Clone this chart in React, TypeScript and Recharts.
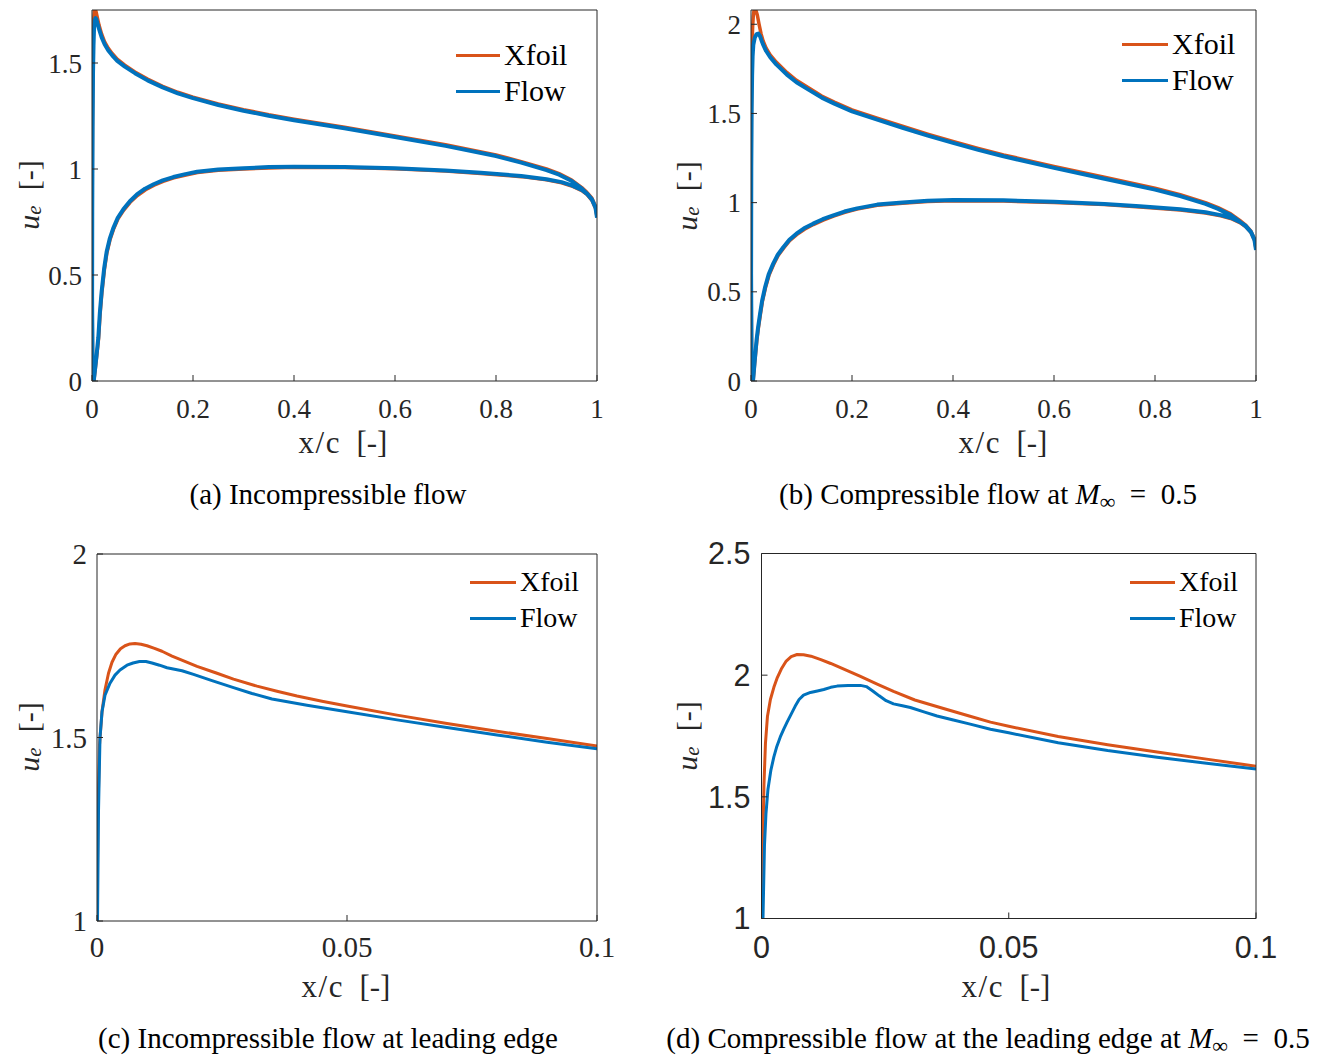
import React from 'react';
import { LineChart, Line, XAxis, YAxis, Legend } from 'recharts';

type Pt = [number, number];

const XFOIL_COLOR = '#D95319';
const FLOW_COLOR = '#0072BD';
const AXIS_COLOR = '#262626';
const SERIF = '"Liberation Serif", "Times New Roman", serif';
const SANS = '"Liberation Sans", Arial, sans-serif';

const SERIES_NAMES = ['Xfoil', 'Flow'];

// ---------- Panel (a): incompressible, full chord ----------
const aXTicks = [0, 0.2, 0.4, 0.6, 0.8, 1];
const aYTicks = [0, 0.5, 1, 1.5];
const aXfoil: Pt[] = [
  [1.0, 0.775], [0.997, 0.825], [0.99, 0.862], [0.98, 0.89], [0.97, 0.912], [0.95, 0.948],
  [0.925, 0.978], [0.9, 1.0], [0.85, 1.035], [0.8, 1.066], [0.7, 1.114], [0.6, 1.156],
  [0.5, 1.197], [0.4, 1.235], [0.35, 1.256], [0.3, 1.28], [0.25, 1.307], [0.2, 1.339],
  [0.17, 1.362], [0.14, 1.39], [0.11, 1.424], [0.085, 1.458], [0.065, 1.49], [0.05, 1.518],
  [0.04, 1.545], [0.032, 1.57], [0.025, 1.6], [0.019, 1.637], [0.014, 1.678], [0.0105, 1.715],
  [0.008, 1.742], [0.0062, 1.757], [0.0048, 1.75], [0.0036, 1.715], [0.0026, 1.64],
  [0.0017, 1.5], [0.0009, 1.2], [0.0003, 0.8], [0.0001, 0.4], [0.0012, 0.1], [0.0037, 0.0],
  [0.0062, 0.05], [0.0092, 0.115], [0.013, 0.2], [0.016, 0.315], [0.0195, 0.415],
  [0.0245, 0.525], [0.0295, 0.605], [0.0355, 0.665], [0.0425, 0.715], [0.0515, 0.765],
  [0.0625, 0.805], [0.0755, 0.843], [0.09, 0.875], [0.106, 0.902], [0.123, 0.924],
  [0.141, 0.942], [0.162, 0.958], [0.186, 0.972], [0.209, 0.983], [0.25, 0.994], [0.3, 1.0],
  [0.35, 1.005], [0.4, 1.008], [0.5, 1.007], [0.6, 1.001], [0.7, 0.99], [0.77, 0.979],
  [0.85, 0.964], [0.9, 0.949], [0.93, 0.935], [0.95, 0.92], [0.97, 0.898], [0.98, 0.88],
  [0.99, 0.852], [0.997, 0.815], [1.0, 0.775],
];
const aFlow: Pt[] = [
  [1.0, 0.77], [0.997, 0.82], [0.99, 0.857], [0.98, 0.885], [0.97, 0.907], [0.95, 0.943],
  [0.925, 0.973], [0.9, 0.995], [0.85, 1.03], [0.8, 1.061], [0.7, 1.109], [0.6, 1.151],
  [0.5, 1.192], [0.4, 1.23], [0.35, 1.251], [0.3, 1.275], [0.25, 1.302], [0.2, 1.334],
  [0.17, 1.357], [0.14, 1.385], [0.11, 1.418], [0.085, 1.452], [0.065, 1.483], [0.05, 1.51],
  [0.04, 1.536], [0.032, 1.56], [0.025, 1.588], [0.019, 1.622], [0.014, 1.66], [0.0105, 1.69],
  [0.0085, 1.707], [0.0068, 1.712], [0.0052, 1.7], [0.004, 1.66], [0.003, 1.58],
  [0.002, 1.45], [0.0012, 1.2], [0.0005, 0.8], [0.0002, 0.4], [0.001, 0.1], [0.0035, 0.0],
  [0.006, 0.055], [0.009, 0.12], [0.0125, 0.205], [0.0155, 0.32], [0.019, 0.42],
  [0.024, 0.53], [0.029, 0.61], [0.035, 0.67], [0.042, 0.72], [0.051, 0.77], [0.062, 0.81],
  [0.075, 0.848], [0.089, 0.88], [0.105, 0.907], [0.122, 0.928], [0.14, 0.946],
  [0.161, 0.962], [0.185, 0.976], [0.208, 0.987], [0.25, 0.998], [0.3, 1.004],
  [0.35, 1.009], [0.4, 1.011], [0.5, 1.01], [0.6, 1.004], [0.7, 0.993], [0.77, 0.982],
  [0.85, 0.967], [0.9, 0.952], [0.93, 0.938], [0.95, 0.923], [0.97, 0.901], [0.98, 0.883],
  [0.99, 0.855], [0.997, 0.818], [1.0, 0.77],
];

// ---------- Panel (b): compressible M=0.5, full chord ----------
const bXTicks = [0, 0.2, 0.4, 0.6, 0.8, 1];
const bYTicks = [0, 0.5, 1, 1.5, 2];
const bXfoil: Pt[] = [
  [1.0, 0.74], [0.997, 0.795], [0.99, 0.84], [0.98, 0.872], [0.968, 0.9], [0.95, 0.937],
  [0.925, 0.972], [0.9, 1.0], [0.85, 1.045], [0.8, 1.081], [0.7, 1.142], [0.6, 1.203],
  [0.5, 1.268], [0.45, 1.304], [0.4, 1.343], [0.35, 1.384], [0.3, 1.428], [0.25, 1.473],
  [0.2, 1.52], [0.165, 1.564], [0.14, 1.598], [0.117, 1.638], [0.09, 1.686], [0.071, 1.73],
  [0.05, 1.788], [0.038, 1.828], [0.03, 1.866], [0.024, 1.906], [0.02, 1.946],
  [0.016, 2.0], [0.0125, 2.052], [0.0095, 2.08], [0.0075, 2.087], [0.0058, 2.075],
  [0.0045, 2.045], [0.0033, 1.99], [0.0022, 1.9], [0.0013, 1.78], [0.0006, 1.45],
  [0.0001, 0.6], [0.0012, 0.15], [0.0042, 0.0], [0.0073, 0.1], [0.0115, 0.225], [0.0145, 0.295],
  [0.0185, 0.372], [0.0225, 0.445], [0.0285, 0.521], [0.0355, 0.592], [0.0445, 0.652],
  [0.0535, 0.703], [0.0645, 0.745], [0.0765, 0.787], [0.0905, 0.821], [0.106, 0.851],
  [0.1235, 0.877], [0.143, 0.902], [0.1635, 0.925], [0.186, 0.946], [0.21, 0.964],
  [0.25, 0.985], [0.3, 0.997], [0.35, 1.006], [0.4, 1.011], [0.5, 1.009], [0.6, 1.001],
  [0.7, 0.989], [0.77, 0.976], [0.85, 0.959], [0.9, 0.942], [0.93, 0.926], [0.95, 0.911],
  [0.968, 0.888], [0.98, 0.865], [0.99, 0.833], [0.997, 0.79], [1.0, 0.74],
];
const bFlow: Pt[] = [
  [1.0, 0.735], [0.997, 0.79], [0.99, 0.835], [0.98, 0.866], [0.968, 0.893], [0.95, 0.93],
  [0.925, 0.965], [0.9, 0.993], [0.85, 1.037], [0.8, 1.073], [0.7, 1.134], [0.6, 1.195],
  [0.5, 1.26], [0.45, 1.296], [0.4, 1.335], [0.35, 1.376], [0.3, 1.42], [0.25, 1.465],
  [0.2, 1.512], [0.165, 1.555], [0.14, 1.589], [0.117, 1.628], [0.09, 1.675], [0.071, 1.718],
  [0.05, 1.775], [0.038, 1.815], [0.03, 1.85], [0.024, 1.886], [0.021, 1.908], [0.018, 1.932],
  [0.0145, 1.948], [0.011, 1.945], [0.0075, 1.925], [0.0046, 1.885], [0.0032, 1.82],
  [0.0022, 1.71], [0.0013, 1.52], [0.0006, 1.2], [0.0002, 0.6], [0.001, 0.15], [0.004, 0.0],
  [0.007, 0.1], [0.011, 0.23], [0.014, 0.3], [0.018, 0.378], [0.022, 0.45], [0.028, 0.527],
  [0.035, 0.598], [0.044, 0.658], [0.053, 0.708], [0.064, 0.75], [0.076, 0.792],
  [0.09, 0.826], [0.105, 0.856], [0.123, 0.882], [0.142, 0.907], [0.163, 0.929],
  [0.185, 0.95], [0.21, 0.968], [0.25, 0.989], [0.3, 1.001], [0.35, 1.01], [0.4, 1.015],
  [0.5, 1.013], [0.6, 1.005], [0.7, 0.993], [0.77, 0.98], [0.85, 0.963], [0.9, 0.946],
  [0.93, 0.93], [0.95, 0.915], [0.968, 0.892], [0.98, 0.869], [0.99, 0.837], [0.997, 0.793],
  [1.0, 0.735],
];

// ---------- Panel (c): incompressible, leading edge ----------
const cXTicks = [0, 0.05, 0.1];
const cYTicks = [1, 1.5, 2];
const cXfoil: Pt[] = [
  [0.1, 1.477], [0.09, 1.497], [0.08, 1.517], [0.07, 1.538], [0.06, 1.561], [0.05, 1.586],
  [0.045, 1.599], [0.04, 1.613], [0.036, 1.626], [0.032, 1.64], [0.0273, 1.659],
  [0.024, 1.675], [0.02, 1.694], [0.0166, 1.713], [0.015, 1.722], [0.013, 1.735],
  [0.0115, 1.743], [0.01, 1.75], [0.0088, 1.754], [0.0076, 1.756], [0.0066, 1.755],
  [0.0056, 1.75], [0.0047, 1.742], [0.0038, 1.727], [0.003, 1.705], [0.0023, 1.675],
  [0.0016, 1.63], [0.001, 1.57], [0.0005, 1.48], [0.0002, 1.3], [0.0, 1.0], [0.0, 0.8],
];
const cFlow: Pt[] = [
  [0.1, 1.469], [0.09, 1.487], [0.08, 1.507], [0.07, 1.527], [0.06, 1.548], [0.05, 1.57],
  [0.042, 1.588], [0.035, 1.605], [0.031, 1.62], [0.0273, 1.636], [0.023, 1.655],
  [0.0193, 1.672], [0.017, 1.682], [0.014, 1.69], [0.0125, 1.697], [0.011, 1.703],
  [0.0098, 1.707], [0.0085, 1.707], [0.0072, 1.703], [0.006, 1.697], [0.0046, 1.684],
  [0.0036, 1.67], [0.0026, 1.648], [0.0016, 1.615], [0.001, 1.57], [0.0006, 1.5],
  [0.0003, 1.3], [0.0001, 1.0], [0.0001, 0.8],
];

// ---------- Panel (d): compressible M=0.5, leading edge ----------
const dXTicks = [0, 0.05, 0.1];
const dYTicks = [1, 1.5, 2, 2.5];
const dXfoil: Pt[] = [
  [0.1, 1.626], [0.09, 1.655], [0.08, 1.684], [0.07, 1.714], [0.06, 1.748], [0.05, 1.79],
  [0.0463, 1.807], [0.042, 1.832], [0.0368, 1.863], [0.031, 1.898], [0.0267, 1.933],
  [0.0235, 1.962], [0.02, 1.995], [0.017, 2.022], [0.014, 2.048], [0.012, 2.064],
  [0.01, 2.078], [0.0085, 2.084], [0.0072, 2.085], [0.006, 2.076], [0.005, 2.058],
  [0.004, 2.025], [0.0032, 1.99], [0.0025, 1.95], [0.0018, 1.9], [0.0012, 1.83],
  [0.0008, 1.72], [0.0005, 1.55], [0.0002, 1.25], [0.0, 1.0], [0.0, 0.8],
];
const dFlow: Pt[] = [
  [0.1, 1.614], [0.09, 1.638], [0.08, 1.663], [0.07, 1.69], [0.06, 1.722], [0.05, 1.763],
  [0.0463, 1.778], [0.042, 1.8], [0.0388, 1.816], [0.0355, 1.832], [0.033, 1.848],
  [0.0301, 1.867], [0.0285, 1.874], [0.0267, 1.882], [0.0252, 1.895], [0.0238, 1.915],
  [0.0225, 1.935], [0.0212, 1.953], [0.02, 1.958], [0.0175, 1.958], [0.0153, 1.955],
  [0.014, 1.95], [0.0126, 1.941], [0.0113, 1.935], [0.0099, 1.929], [0.0085, 1.918],
  [0.0076, 1.9], [0.0068, 1.872], [0.006, 1.84], [0.0052, 1.808], [0.0045, 1.778],
  [0.0038, 1.746], [0.0031, 1.707], [0.0025, 1.664], [0.0019, 1.61], [0.0013, 1.53],
  [0.0009, 1.43], [0.0006, 1.3], [0.0003, 1.0], [0.0003, 0.8],
];

const toRows = (pts: Pt[]) => pts.map(([x, u]) => ({ x, u }));

type PanelProps = {
  left: number;
  top: number;
  width: number;
  height: number;
  margin: { top: number; right: number; bottom: number; left: number };
  xDomain: [number, number];
  yDomain: [number, number];
  xTicks: number[];
  yTicks: number[];
  xfoil: Pt[];
  flow: Pt[];
  tickFont: string;
  tickFontSize: number;
  xTickMargin: number;
  yTickMargin: number;
  lineWidthX: number;
  lineWidthF: number;
  legendLeft: number;
  legendTop: number;
  legendFontSize: number;
  legendRow: number;
  legendLine: number;
};

const TICK = 6;

function LegendBox(props: any) {
  const { payload, fontSize, row, lineLen } = props;
  const items = [...((payload || []) as any[])].sort(
    (a: any, b: any) => SERIES_NAMES.indexOf(a.value) - SERIES_NAMES.indexOf(b.value)
  );
  return (
    <div style={{ fontFamily: SERIF, fontSize, color: '#000' }}>
      {items.map((it: any) => (
        <div key={it.value} style={{ display: 'flex', alignItems: 'center', height: row, lineHeight: `${row}px` }}>
          <span style={{ display: 'inline-block', width: lineLen, height: 3, background: it.color, marginRight: 4 }} />
          <span>{it.value}</span>
        </div>
      ))}
    </div>
  );
}

function Panel(p: PanelProps) {
  const tickStyle = { fill: AXIS_COLOR, fontFamily: p.tickFont, fontSize: p.tickFontSize };
  const axisLine = { stroke: AXIS_COLOR, strokeWidth: 1 };
  return (
    <div style={{ position: 'absolute', left: p.left, top: p.top }}>
      <LineChart width={p.width} height={p.height} margin={p.margin}>
        <XAxis
          xAxisId="b"
          type="number"
          dataKey="x"
          domain={p.xDomain}
          ticks={p.xTicks}
          interval={0}
          allowDataOverflow
          height={30}
          tickSize={-TICK}
          tickMargin={p.xTickMargin}
          axisLine={axisLine}
          tickLine={axisLine}
          tick={tickStyle}
        />
        <XAxis
          xAxisId="t"
          orientation="top"
          mirror
          type="number"
          dataKey="x"
          domain={p.xDomain}
          ticks={p.xTicks}
          interval={0}
          allowDataOverflow
          height={2}
          tickSize={TICK}
          axisLine={axisLine}
          tickLine={axisLine}
          tick={false}
        />
        <YAxis
          yAxisId="l"
          type="number"
          dataKey="u"
          domain={p.yDomain}
          ticks={p.yTicks}
          interval={0}
          allowDataOverflow
          width={60}
          tickSize={-TICK}
          tickMargin={p.yTickMargin}
          axisLine={axisLine}
          tickLine={axisLine}
          tick={tickStyle}
        />
        <YAxis
          yAxisId="r"
          orientation="right"
          mirror
          type="number"
          dataKey="u"
          domain={p.yDomain}
          ticks={p.yTicks}
          interval={0}
          allowDataOverflow
          width={2}
          tickSize={TICK}
          axisLine={axisLine}
          tickLine={axisLine}
          tick={false}
        />
        <Line
          xAxisId="b"
          yAxisId="l"
          data={toRows(p.xfoil)}
          dataKey="u"
          name={SERIES_NAMES[0]}
          type="linear"
          stroke={XFOIL_COLOR}
          strokeWidth={p.lineWidthX}
          strokeLinejoin="round"
          dot={false}
          activeDot={false}
          isAnimationActive={false}
        />
        <Line
          xAxisId="b"
          yAxisId="l"
          data={toRows(p.flow)}
          dataKey="u"
          name={SERIES_NAMES[1]}
          type="linear"
          stroke={FLOW_COLOR}
          strokeWidth={p.lineWidthF}
          strokeLinejoin="round"
          dot={false}
          activeDot={false}
          isAnimationActive={false}
        />
        <Legend
          layout="vertical"
          align="center"
          verticalAlign="middle"
          wrapperStyle={{ left: p.legendLeft, top: p.legendTop, width: 'auto', height: 'auto' }}
          content={(lp: any) => (
            <LegendBox payload={lp.payload} fontSize={p.legendFontSize} row={p.legendRow} lineLen={p.legendLine} />
          )}
        />
      </LineChart>
    </div>
  );
}

function YTitle({ x, y, size }: { x: number; y: number; size: number }) {
  return (
    <text
      x={x}
      y={y}
      transform={`rotate(-90 ${x} ${y})`}
      textAnchor="middle"
      dominantBaseline="central"
      fontFamily={SERIF}
      fontSize={size}
      fill={AXIS_COLOR}
    >
      <tspan fontStyle="italic">u</tspan>
      <tspan fontStyle="italic" fontSize={size * 0.7} dy={size * 0.2}>e</tspan>
      <tspan dy={-size * 0.2}>{'\u2002[-]'}</tspan>
    </text>
  );
}

function XTitle({ x, y, size }: { x: number; y: number; size: number }) {
  return (
    <text x={x} y={y} textAnchor="middle" fontFamily={SERIF} fontSize={size} fill={AXIS_COLOR}>
      <tspan letterSpacing={1.5}>x/c</tspan>
      <tspan>{'\u2002[-]'}</tspan>
    </text>
  );
}

function Caption({ x, y, label, mach }: { x: number; y: number; label: string; mach: boolean }) {
  return (
    <text x={x} y={y} textAnchor="middle" fontFamily={SERIF} fontSize={29} fill="#000">
      <tspan>{label}</tspan>
      {mach ? (
        <>
          <tspan fontStyle="italic">{' M'}</tspan>
          <tspan fontSize={22} dy={5}>{'\u221e'}</tspan>
          <tspan dy={-5}>{'\u2002=\u20020.5'}</tspan>
        </>
      ) : null}
    </text>
  );
}

export default function App() {
  return (
    <div style={{ position: 'absolute', left: 0, top: 0, width: 1325, height: 1057, background: '#fff' }}>
      <Panel
        left={0}
        top={0}
        width={660}
        height={530}
        margin={{ top: 10, right: 63, bottom: 119, left: 32 }}
        xDomain={[0, 1]}
        yDomain={[0, 1.75]}
        xTicks={aXTicks}
        yTicks={aYTicks}
        xfoil={aXfoil}
        flow={aFlow}
        tickFont={SERIF}
        tickFontSize={27}
        xTickMargin={24}
        yTickMargin={16}
        lineWidthX={3.5}
        lineWidthF={4}
        legendLeft={456}
        legendTop={37}
        legendFontSize={30}
        legendRow={36}
        legendLine={44}
      />
      <Panel
        left={660}
        top={0}
        width={660}
        height={530}
        margin={{ top: 10, right: 64, bottom: 119, left: 31 }}
        xDomain={[0, 1]}
        yDomain={[0, 2.08]}
        xTicks={bXTicks}
        yTicks={bYTicks}
        xfoil={bXfoil}
        flow={bFlow}
        tickFont={SERIF}
        tickFontSize={27}
        xTickMargin={24}
        yTickMargin={16}
        lineWidthX={3.5}
        lineWidthF={4}
        legendLeft={462}
        legendTop={26}
        legendFontSize={30}
        legendRow={36}
        legendLine={46}
      />
      <Panel
        left={0}
        top={530}
        width={660}
        height={530}
        margin={{ top: 24, right: 63, bottom: 109, left: 37 }}
        xDomain={[0, 0.1]}
        yDomain={[1, 2]}
        xTicks={cXTicks}
        yTicks={cYTicks}
        xfoil={cXfoil}
        flow={cFlow}
        tickFont={SERIF}
        tickFontSize={29}
        xTickMargin={21}
        yTickMargin={16}
        lineWidthX={3}
        lineWidthF={3}
        legendLeft={470}
        legendTop={34}
        legendFontSize={28}
        legendRow={36}
        legendLine={46}
      />
      <Panel
        left={660}
        top={530}
        width={660}
        height={530}
        margin={{ top: 23.5, right: 64, bottom: 111.5, left: 41.5 }}
        xDomain={[0, 0.1]}
        yDomain={[1, 2.5]}
        xTicks={dXTicks}
        yTicks={dYTicks}
        xfoil={dXfoil}
        flow={dFlow}
        tickFont={SANS}
        tickFontSize={30.5}
        xTickMargin={24}
        yTickMargin={17}
        lineWidthX={3}
        lineWidthF={3}
        legendLeft={470}
        legendTop={34}
        legendFontSize={28}
        legendRow={36}
        legendLine={45}
      />
      <svg
        width={1325}
        height={1057}
        style={{ position: 'absolute', left: 0, top: 0, pointerEvents: 'none' }}
      >
        <YTitle x={28} y={195} size={30} />
        <YTitle x={686} y={196} size={30} />
        <YTitle x={28} y={737} size={30} />
        <YTitle x={686} y={736} size={30} />
        <XTitle x={343} y={453} size={31} />
        <XTitle x={1003} y={453} size={31} />
        <XTitle x={346} y={997} size={31} />
        <XTitle x={1006} y={997} size={31} />
        <Caption x={328} y={504} label="(a) Incompressible flow" mach={false} />
        <Caption x={988} y={504} label="(b) Compressible flow at" mach={true} />
        <Caption x={328} y={1048} label="(c) Incompressible flow at leading edge" mach={false} />
        <Caption x={988} y={1048} label="(d) Compressible flow at the leading edge at" mach={true} />
      </svg>
    </div>
  );
}
